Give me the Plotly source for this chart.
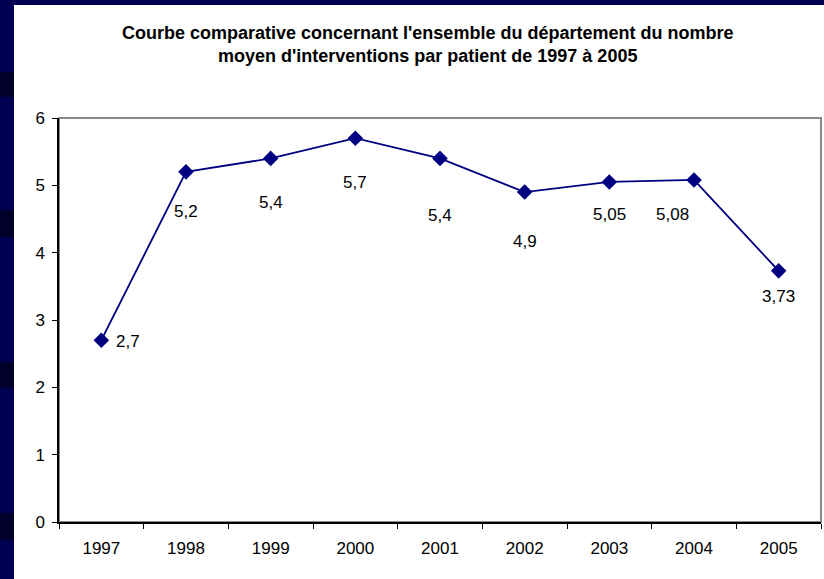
import plotly.graph_objects as go

years = ["1997", "1998", "1999", "2000", "2001", "2002", "2003", "2004", "2005"]
values = [2.7, 5.2, 5.4, 5.7, 5.4, 4.9, 5.05, 5.08, 3.73]
labels = ["2,7", "5,2", "5,4", "5,7", "5,4", "4,9", "5,05", "5,08", "3,73"]
y_ticks = [0, 1, 2, 3, 4, 5, 6]

# label offsets (pixels) - style only
label_dx = [27, 0, 0, 0, 0, 0, 0, -22, 0]
label_dy = [-1, -40, -44, -44, -57, -49, -33, -35, -26]

W, H = 824, 579
L, R, T, B = 59, 3, 118, 57
pw, ph = W - L - R, H - T - B

def px(x):
    return (x - L) / pw

def py(y):
    return (H - B - y) / ph

NAVY = "#000052"
FONT = "Liberation Sans, Arial"

fig = go.Figure()
fig.add_trace(go.Scatter(
    x=years, y=values, mode="lines+markers",
    line=dict(color="#000080", width=1.8),
    marker=dict(symbol="diamond", size=12, color="#000080"),
    cliponaxis=False, hoverinfo="skip", showlegend=False,
))

annotations = []
for i, (v, lab, dx, dy) in enumerate(zip(values, labels, label_dx, label_dy)):
    annotations.append(dict(x=i, y=v, xref="x", yref="y", text=lab, showarrow=False,
                            xshift=dx, yshift=dy,
                            font=dict(family=FONT, size=17, color="#000")))

annotations.append(dict(
    x=px(427), y=py(44), xref="paper", yref="paper", showarrow=False,
    text="<b>Courbe comparative concernant l'ensemble du département du nombre<br>moyen d'interventions par patient de 1997 à 2005</b>",
    font=dict(family=FONT, size=18, color="#000"),
    xanchor="center", yanchor="middle", align="center"))

shapes = [
    dict(type="rect", xref="paper", yref="paper", x0=px(14), x1=px(W + 5), y0=py(5), y1=py(H + 5),
         fillcolor="white", line=dict(width=0), layer="below"),
    dict(type="rect", xref="paper", yref="paper", x0=0, x1=1, y0=0, y1=1,
         line=dict(color="#888888", width=2), fillcolor="rgba(0,0,0,0)", layer="below"),
]
for y0, y1 in [(72, 97), (210, 237), (362, 388), (513, 540)]:
    shapes.append(dict(type="rect", xref="paper", yref="paper", x0=px(0), x1=px(14),
                       y0=py(y0), y1=py(y1), fillcolor="#00002a", line=dict(width=0), layer="below"))

fig.update_layout(
    width=W, height=H,
    margin=dict(l=L, r=R, t=T, b=B),
    paper_bgcolor=NAVY, plot_bgcolor="white",
    annotations=annotations, shapes=shapes,
    xaxis=dict(type="category", range=[-0.5, 8.5], tickson="boundaries", ticks="outside",
               ticklen=5, tickcolor="#000", showline=True, linecolor="#000", linewidth=1.5,
               showgrid=False, zeroline=False, ticklabelstandoff=10,
               tickfont=dict(family=FONT, size=17, color="#000")),
    yaxis=dict(range=[0, 6], tickvals=y_ticks, ticks="outside", ticklen=5, tickcolor="#000",
               showline=True, linecolor="#000", linewidth=1.5, showgrid=False, zeroline=False,
               ticklabelstandoff=4,
               tickfont=dict(family=FONT, size=17, color="#000")),
)

fig.write_html("out.html", config={"displayModeBar": False},
               post_script="document.body.style.margin='0';document.body.style.overflow='hidden';")
